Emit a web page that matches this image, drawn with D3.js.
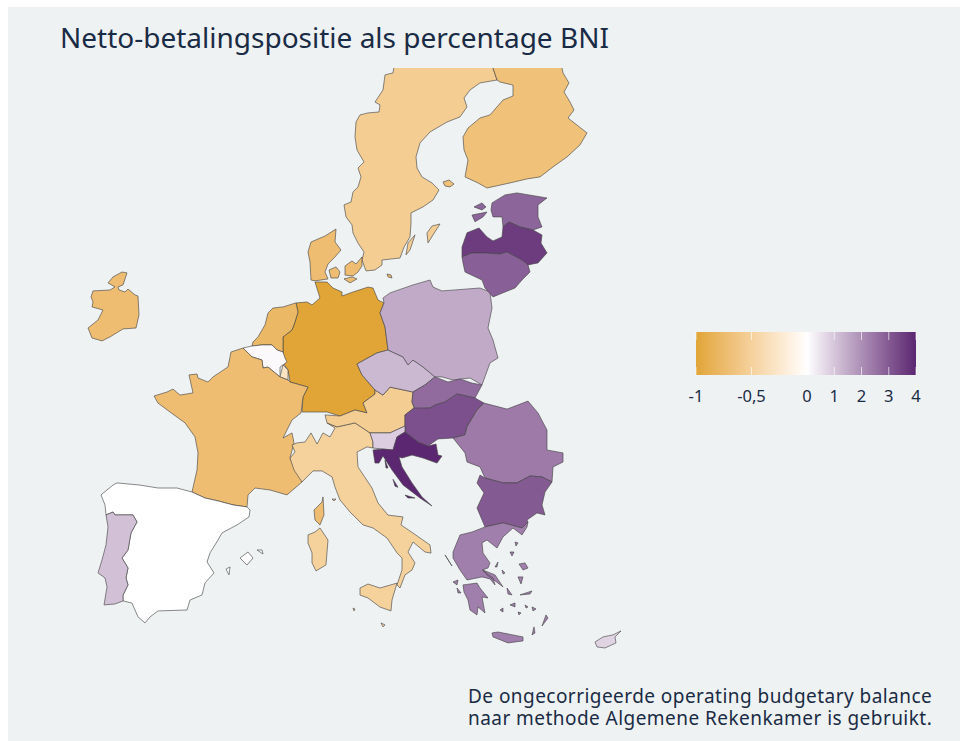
<!DOCTYPE html>
<html>
<head>
<meta charset="utf-8">
<style>
  body { margin: 0; background: #fff; }
  text { font-family: "Noto Sans", sans-serif; fill: #1a2b45; }
</style>
<script src="https://cdn.jsdelivr.net/npm/d3@7"></script>
</head>
<body>
<script>
// country outlines, [lon, lat]
const sweden = [
  [[14.8,66.9],[14.64,66.19],[14,66.08],[13.84,65.25],[13.2,64.59],[13.6,64.43],[13.52,64.04],[12.64,63.99],[12,63.88],[11.68,63.49],[11.6,62.67],[11.76,61.95],[12.32,61.29],[11.84,60.96],[12.08,60.47],[11.84,59.92],[11.44,59.64],[11.28,59.09],[10.72,58.93],[10.88,58.27],[11.36,57.83],[11.44,57.38],[11.84,56.83],[12.32,56.34],[12.16,55.9],[12.48,55.3],[13.2,55.35],[13.76,55.63],[13.76,55.9],[15.2,56.01],[15.52,56.61],[16,57.17],[16.08,57.94],[16.08,58.49],[17.04,58.82],[17.84,59.2],[18.32,59.75],[17.76,60.14],[16.96,60.47],[16.56,60.96],[16.48,61.57],[16.8,62.34],[17.6,62.94],[18.96,63.49],[20,63.77],[20.56,64.32],[20.32,64.81],[20.8,65.25],[21.6,65.64],[22.96,65.8],[22.64,66.46],[22.64,66.9]],
  [[18.4,57.88],[17.76,57.77],[17.36,57.39],[17.44,56.84],[17.84,57.28]],
  [[16.4,57.28],[15.84,56.84],[15.68,56.18],[16,56.45]]
];
const finland = [
  [[22.64,66.9],[28.4,66.9],[28.16,66.46],[28.24,66.19],[28.72,65.64],[28.32,65.14],[28.8,64.59],[29.12,64.15],[28.64,63.71],[30.16,62.89],[29.6,62.23],[28.56,61.57],[27.44,61.02],[26.4,60.47],[25.36,60.36],[24,60.14],[22.16,59.86],[21.44,60.14],[20.4,60.47],[20.64,61.4],[20.32,61.95],[20.24,62.67],[20.64,63.16],[21.6,63.71],[22.4,63.88],[23.44,64.7],[24.24,64.92],[24.24,65.52],[23.2,65.69],[22.96,65.8],[22.64,66.46]],
  [[18.64,60.19],[19.12,60.3],[19.52,60.08],[19.2,59.92],[18.8,59.97]]
];
const denmark = [
  [[10.08,57.6],[9.2,57.22],[8.08,56.89],[7.84,56.34],[8,55.79],[8.08,54.8],[8.4,54.75],[9.44,54.86],[9.2,55.24],[9.44,55.68],[10,56.07],[10.48,56.45],[10,56.89]],
  [[9.52,55.35],[10.08,55.52],[10.4,55.24],[10.24,54.91],[9.68,54.91]],
  [[10.8,55.57],[11.36,55.85],[11.68,55.68],[12.16,56.07],[12.16,55.57],[11.84,55.24],[11.44,55.02],[10.8,55.07]],
  [[10.72,54.86],[11.36,54.97],[11.76,54.86],[11.2,54.64]],
  [[14.16,55.13],[14.48,55.08],[14.56,54.91],[14.24,54.97]]
];
const germany = [
  [[6.88,53.54],[7.76,53.59],[8.16,53.43],[8.8,53.81],[8.4,54.69],[9.36,54.69],[9.84,54.36],[10.56,54.14],[10.56,53.92],[11.44,54.14],[12.64,54.41],[13.04,54.36],[13.44,53.7],[13.92,53.54],[13.6,52.99],[14,52.22],[14.24,50.95],[13.36,50.79],[11.76,50.18],[12.16,49.58],[13.2,48.75],[13.2,48.53],[12.24,48.04],[12.56,47.49],[11.6,47.65],[10.4,47.32],[9.36,47.54],[7.36,47.54],[7.44,48.37],[7.84,48.91],[6.4,49.19],[6.24,49.85],[5.84,50.24],[5.84,51.06],[5.84,51.67],[6.56,52.05],[6.8,52.49],[7.04,53.04]]
];
const netherlands = [
  [[6.88,53.54],[5.84,53.32],[5.04,53.26],[4.64,52.99],[4.4,52.33],[3.84,51.67],[3.44,51.39],[3.36,51.17],[4.16,51.23],[4.96,51.23],[5.36,50.95],[5.84,50.84],[5.84,51.67],[6.56,52.05],[6.8,52.49],[7.04,53.04]]
];
const belgium = [
  [[2.64,51.06],[3.36,51.17],[4.16,51.23],[4.96,51.23],[5.36,50.95],[5.84,50.84],[6,50.51],[6.16,50.29],[5.6,50.01],[5.6,49.47],[4.64,50.01],[4.24,49.96],[4.16,50.4],[3.36,50.57]]
];
const luxembourg = [
  [[5.6,49.47],[5.84,50.13],[6.24,49.85],[6.24,49.3]]
];
const ireland = [
  [[-6.64,55.19],[-6.96,54.53],[-7.36,54.42],[-7.28,54.25],[-6.8,54.14],[-6.56,54.3],[-6,53.98],[-5.76,53.92],[-5.68,52.88],[-5.92,52.16],[-6.96,52.11],[-8,51.67],[-8.64,51.45],[-9.44,51.61],[-9.76,52.16],[-8.96,52.6],[-8.56,53.15],[-9.44,53.32],[-9.36,53.59],[-9.52,53.87],[-9.36,54.2],[-8,54.25],[-7.6,54.42],[-8.16,54.64],[-7.76,54.97],[-7.04,55.24]]
];
const france = [
  [[2.64,51.06],[3.36,50.57],[4.16,50.4],[4.24,49.96],[4.64,50.01],[5.6,49.47],[6.24,49.3],[6.4,49.19],[7.84,48.91],[7.44,48.37],[7.28,47.49],[6.56,47.1],[6.16,46.55],[5.84,46.11],[6.56,46.39],[6.72,45.84],[6.4,45.01],[6.8,44.46],[7.36,43.97],[7.36,43.69],[6.16,42.98],[4.8,43.25],[3.6,43.36],[3.04,42.98],[2.96,42.32],[1.84,42.43],[0.64,42.65],[-0.4,42.81],[-1.44,43.14],[-1.04,44.35],[-0.96,45.29],[-1.2,46.17],[-2,46.94],[-3.2,47.54],[-4.16,48.03],[-4.48,48.42],[-3.44,48.64],[-2.96,48.8],[-2.4,48.47],[-1.36,48.59],[-1.68,49.58],[-1.04,49.63],[-0.96,49.41],[-0.16,49.19],[0.24,49.47],[1.44,50.02],[1.68,50.84]],
  [[9.04,42.87],[8.96,42.59],[8.32,42.15],[8.4,41.6],[8.8,41.33],[9.12,41.88]]
];
const spain = [
  [[-1.44,43.14],[-0.4,42.81],[0.64,42.65],[1.84,42.43],[2.96,42.32],[3.2,42.15],[3.12,41.77],[2.16,41.33],[0.96,40.89],[0.64,40.5],[0,39.79],[-0.24,39.29],[0.32,38.69],[-0.4,38.14],[-0.64,37.48],[-1.6,37.2],[-1.84,36.65],[-4.16,36.6],[-4.8,36.27],[-5.2,35.94],[-5.76,36.27],[-6.24,37.03],[-6.96,37.15],[-6.96,37.47],[-6.56,38.03],[-6.72,38.41],[-6.56,38.96],[-7.04,39.51],[-6.56,39.95],[-6.32,40.89],[-5.84,41.49],[-6.16,41.88],[-6.8,41.88],[-7.6,41.88],[-7.76,42.04],[-8.32,41.88],[-8.4,42.43],[-8.72,42.98],[-7.76,43.52],[-7.44,43.64],[-5.6,43.52],[-4.16,43.36],[-2.64,43.36]],
  [[2.4,39.51],[3.04,39.84],[3.44,39.51],[2.96,39.12]],
  [[3.76,39.95],[4.16,39.95],[4.24,39.73]],
  [[1.28,38.9],[1.6,39.02],[1.52,38.58]]
];
const portugal = [
  [[-8.32,41.88],[-7.76,42.04],[-7.6,41.88],[-6.8,41.88],[-6.16,41.88],[-5.84,41.49],[-6.32,40.89],[-6.56,39.95],[-7.04,39.51],[-6.56,38.96],[-6.72,38.41],[-6.56,38.03],[-6.96,37.47],[-6.96,37.15],[-7.6,36.98],[-8.48,36.93],[-8.24,37.92],[-8.4,38.41],[-8.96,38.69],[-8.64,39.4],[-8.32,40.23],[-8.16,41.22]]
];
const italy = [
  [[6.56,45.73],[6.96,45.84],[7.6,45.89],[8.08,46.39],[8.56,45.78],[9.04,46.39],[9.6,46.17],[10,46.66],[9.36,46.94],[10.16,46.72],[11.6,46.94],[12.8,46.39],[13.04,45.89],[13.04,45.56],[12.56,45.62],[11.76,45.34],[11.84,44.52],[12.96,43.36],[13.44,42.54],[14.24,41.87],[15.44,41.77],[15.28,41.33],[16.24,40.88],[17.6,40.23],[17.68,39.78],[17.2,39.84],[16.24,40.39],[15.84,39.84],[16.4,39.24],[16.16,38.85],[15.6,38.58],[15.2,37.86],[14.96,38.03],[15.36,38.85],[15.36,39.51],[14.96,39.79],[14.16,40.61],[13.04,41.16],[12.24,41.33],[11.2,42.04],[10.4,42.7],[10,43.41],[9.76,43.97],[8.96,44.3],[8.24,44.3],[7.76,43.97],[7.36,43.69],[6.72,44.35],[6.4,45.01],[6.8,45.34]],
  [[12,37.86],[12.64,38.08],[13.6,37.86],[14.96,38.13],[14.56,37.2],[14.48,36.6],[13.6,36.81],[12.64,37.31],[12,37.47]],
  [[7.84,40.78],[8.4,40.94],[8.8,41.16],[9.44,40.5],[9.28,39.13],[8.48,38.8],[8.16,39.24],[8.16,39.79],[7.84,40.33]],
  [[11.44,36.76],[11.6,36.7],[11.52,36.6]],
  [[13.68,35.94],[14,35.83],[13.84,35.72]],
  [[9.76,42.75],[10.08,42.75],[9.92,42.65]]
];
const austria = [
  [[13.2,48.75],[13.84,48.47],[14.4,48.91],[16.24,48.64],[16.16,48.09],[16.32,47.76],[15.6,47.38],[15.6,46.77],[14.4,46.39],[12.8,46.39],[11.6,46.94],[10.16,46.72],[9.36,46.94],[9.2,47.38],[10.4,47.32],[11.6,47.65],[12.56,47.49],[12.24,48.04],[13.2,48.53]]
];
const czechia = [
  [[11.76,50.18],[13.36,50.79],[14.24,50.95],[15.44,50.57],[15.84,50.13],[16.24,50.4],[17.04,50.02],[18,49.47],[17.2,49.03],[16.24,48.64],[14.4,48.91],[13.84,48.47],[13.2,48.75],[12.16,49.58]]
];
const poland = [
  [[13.84,53.81],[14.4,54.09],[16.24,54.53],[17.6,54.8],[17.84,54.41],[18.56,54.2],[21.6,54.36],[22.4,54.14],[22.56,53.26],[22.24,52.16],[22.64,51.5],[23.04,50.51],[22.4,50.24],[21.76,49.03],[20.8,49.41],[19.44,49.3],[18.56,49.47],[18,49.47],[17.04,50.02],[16.24,50.4],[15.84,50.13],[15.44,50.57],[14.24,50.95],[14,52.22],[13.6,52.99],[13.92,53.54]]
];
const slovakia = [
  [[16.24,48.64],[17.2,49.03],[18,49.47],[19.04,49.19],[20,49.36],[20.96,49.13],[21.76,49.03],[21.2,48.31],[19.76,48.53],[18.8,48.09],[18,47.92],[17.6,47.76],[16.4,47.7],[16.16,48.09]]
];
const hungary = [
  [[16.32,47.76],[17.6,47.76],[18,47.92],[18.8,48.09],[19.76,48.53],[21.2,48.31],[21.92,48.03],[21.36,47.65],[20.56,46.72],[20.4,46.28],[19.44,46.11],[18.24,46.06],[17.44,45.67],[16.64,45.89],[15.6,46.44],[15.6,46.77],[15.6,47.38]]
];
const slovenia = [
  [[15.6,46.77],[15.6,46.44],[14.96,46.17],[14.64,45.45],[13.84,45.5],[13.04,45.56],[13.04,45.89],[12.8,46.39],[14.4,46.39]]
];
const croatia = [
  [[15.6,46.44],[16.64,45.89],[17.44,45.67],[18.08,45.78],[18.24,45.17],[18.56,45.12],[18.16,44.73],[17.04,45.01],[16.16,45.17],[15.36,45.01],[15.12,45.07],[15.36,44.52],[16.16,43.64],[16.96,42.87],[17.76,42.37],[16.8,42.81],[15.44,43.53],[14.56,44.35],[13.84,45.12],[13.52,44.73],[13.2,44.73],[13.04,45.45],[13.84,45.5],[14.64,45.45],[14.96,46.17]],
  [[14,44.9],[14.24,44.46],[14.08,44.46]],
  [[14.64,43.84],[15.04,43.4],[14.8,43.46]],
  [[15.6,42.97],[16.4,42.81],[15.84,42.81]]
];
const romania = [
  [[21.92,48.03],[23.76,47.7],[25.44,48.14],[26.24,47.49],[26.96,46.55],[26.96,45.45],[28.24,45.29],[28.24,44.79],[27.44,44.52],[27.36,43.69],[26.56,43.97],[25.6,44.02],[24.56,43.64],[23.44,43.64],[22,43.91],[21.6,44.52],[20.56,44.79],[20.4,45.29],[19.44,46.11],[20.4,46.28],[20.56,46.72],[21.36,47.65]]
];
const bulgaria = [
  [[22,43.91],[23.44,43.64],[24.56,43.64],[25.6,44.02],[26.56,43.97],[27.36,43.69],[26.8,43.14],[26.56,42.43],[26.8,41.88],[26.16,41.99],[25.36,41.6],[25.44,41.49],[24.96,41.16],[23.44,41.44],[22,41.22],[21.36,42.26],[21.92,43.09],[21.36,43.64],[21.6,44.07]]
];
const greece = [
  [[20,40.78],[20.96,40.94],[22,41.22],[23.44,41.44],[24.96,41.16],[25.44,41.49],[25.36,41.22],[24.96,40.78],[24.24,41.16],[23.44,40.67],[22.96,40.06],[22.16,40.5],[21.76,40.34],[21.84,39.79],[22.4,39.24],[22.24,38.96],[21.76,38.85],[22.64,38.41],[22.8,38.03],[22.4,38.36],[21.76,38.47],[20.56,38.3],[20,38.85],[19.44,39.51],[19.44,39.84]],
  [[20.24,38.03],[21.36,38.13],[21.6,37.86],[22.24,37.31],[21.76,37.37],[22,36.49],[21.44,36.82],[21.36,36.38],[20.8,36.65],[20.64,37.2],[20.32,37.64]],
  [[22.56,35.39],[23.04,35.44],[25.04,35.17],[25.04,34.95],[23.84,34.84],[22.64,35.17]],
  [[21.84,38.85],[22.8,38.58],[23.44,37.92],[23.04,38.13],[22.16,38.58]],
  [[24.72,39.18],[25.2,39.24],[25.44,38.96],[25.04,38.85]],
  [[24.64,38.47],[25.04,38.47],[24.88,38.08]],
  [[24.8,37.48],[25.76,37.7],[25.6,37.53]],
  [[26.88,36.38],[27.04,36.21],[26.56,35.77]],
  [[24.4,40.39],[24.64,40.34],[24.48,40.17]],
  [[24,39.84],[24.32,39.84],[24.16,39.62]],
  [[18.8,39.68],[19.2,39.24],[19.36,39.07]],
  [[19.44,38.19],[19.84,38.3],[19.76,38.03]],
  [[19.76,37.86],[20.08,37.59],[19.84,37.59]],
  [[24,36.93],[24.4,37.04],[24.4,36.82]],
  [[23.2,36.65],[23.44,36.76],[23.44,36.54]],
  [[23.76,37.86],[24.16,37.48],[23.84,37.53]],
  [[25.92,35.72],[26,35.39],[25.76,35.28]],
  [[25.76,36.82],[26.08,36.71],[25.84,36.6]],
  [[23.04,39.29],[22.8,39.02],[22.96,39.02]],
  [[23.36,38.85],[23.6,38.69],[23.44,38.63]],
  [[25.2,36.93],[25.44,36.82],[25.28,36.76]],
  [[24.64,36.54],[24.88,36.49],[24.72,36.38]]
];
const cyprus = [
  [[30.8,34.89],[31.44,35.17],[32.24,35.28],[32.88,35.5],[32.4,35.17],[32.48,34.84],[31.6,34.56],[30.96,34.62]]
];
const estonia = [
  [[22.56,59.04],[23.6,59.48],[24.56,59.59],[26.96,59.31],[26.24,58.93],[26.24,58.27],[26.56,57.72],[25.84,57.55],[24.8,57.72],[23.92,57.99],[23.44,57.72],[23.36,58.27],[22.64,58.27],[22.48,58.65]],
  [[20.96,58.37],[22.16,58.54],[21.84,58.27],[21.2,58]],
  [[21.12,58.82],[21.76,59.04],[22.08,58.82],[21.76,58.65]]
];
const latvia = [
  [[21.52,57.66],[22.16,57.17],[22.64,56.95],[23.36,57.17],[23.44,57.72],[23.92,57.99],[24.8,57.72],[25.84,57.55],[26.56,57.28],[26.48,56.83],[26.96,56.29],[26.24,55.74],[25.44,55.63],[24.96,55.9],[23.76,56.34],[23.2,56.23],[21.76,56.29],[20.96,56.29],[20.16,56.07],[20.16,56.61],[20.56,57.4]]
];
const lithuania = [
  [[20.16,56.07],[20.96,56.29],[21.76,56.29],[23.2,56.23],[23.76,56.34],[24.96,55.9],[25.44,55.63],[25.6,55.24],[24.96,54.8],[24.4,54.36],[23.6,54.14],[22.64,53.87],[22,54.36],[21.76,54.8],[20.4,55.24],[20.24,55.74]]
];

const countries = ["Zweden", "Finland", "Denemarken", "Duitsland", "Nederland", "België", "Luxemburg", "Ierland", "Frankrijk", "Spanje", "Portugal", "Italië", "Oostenrijk", "Tsjechië", "Polen", "Slowakije", "Hongarije", "Slovenië", "Kroatië", "Roemenië", "Bulgarije", "Griekenland", "Cyprus", "Estland", "Letland", "Litouwen"];
const shapes = [sweden, finland, denmark, germany, netherlands, belgium, luxembourg, ireland, france, spain, portugal, italy, austria, czechia, poland, slovakia, hungary, slovenia, croatia, romania, bulgaria, greece, cyprus, estonia, latvia, lithuania];
// netto-betalingspositie, % BNI
const netPosition = [-0.55, -0.68, -0.72, -1, -0.78, 0.1, -0.3, -0.72, -0.72, 0, 1.1, -0.5, -0.55, 1.25, 1.5, 2.7, 3.2, 0.85, 4, 2.4, 3, 2.3, 0.75, 2.8, 3.6, 2.9];

const legendBreaks = [-1, -0.5, 0, 1, 2, 3, 4];
const legendLabels = ["-1", "-0,5", "0", "1", "2", "3", "4"];
const titleText = "Netto-betalingspositie als percentage BNI";
const noteLines = ["De ongecorrigeerde operating budgetary balance", "naar methode Algemene Rekenkamer is gebruikt."];

const width = 960;
const height = 741;

const svg = d3.select("body").append("svg")
  .attr("width", width)
  .attr("height", height)
  .style("display", "block");

svg.append("rect")
  .attr("x", 8).attr("y", 7)
  .attr("width", width - 8).attr("height", height - 7)
  .attr("fill", "#eef2f3");

const defs = svg.append("defs");
defs.append("clipPath").attr("id", "map-clip")
  .append("rect")
  .attr("x", 8).attr("y", 68)
  .attr("width", 700).attr("height", 640);

// the source map is squeezed, so plain linear scales fit it better than a projection
const xMap = d3.scaleLinear().domain([0, 8]).range([210, 310]);
const yMap = d3.scaleLinear().domain([70.2, 15.2]).range([0, 1000]);
const path = d3.geoPath(d3.geoTransform({
  point(lon, lat) { this.stream.point(xMap(lon), yMap(lat)); }
}));

const color = d3.scaleLinear()
  .domain([-1, 0, 4])
  .range(["#e1a537", "#ffffff", "#5c2771"])
  .interpolate(d3.interpolateLab);

svg.append("g")
  .attr("clip-path", "url(#map-clip)")
  .selectAll("path")
  .data(countries)
  .enter()
  .append("path")
  .attr("d", (d, i) => path({ type: "MultiPolygon", coordinates: shapes[i].map(r => [r.concat([r[0]])]) }))
  .attr("fill", (d, i) => color(netPosition[i]))
  .attr("stroke", "#444444")
  .attr("stroke-opacity", 0.9)
  .attr("stroke-width", 0.7)
  .attr("stroke-linejoin", "round")
  .append("title")
  .text(d => d);

// legend
const xLegend = d3.scaleLinear().domain([-1, 0, 4]).range([696, 807, 916]);
const legendTop = 332;
const legendBottom = 375;
const tickLen = 8;

const grad = defs.append("linearGradient")
  .attr("id", "legend-grad")
  .attr("gradientUnits", "userSpaceOnUse")
  .attr("x1", xLegend(-1)).attr("x2", xLegend(4))
  .attr("y1", 0).attr("y2", 0);
legendBreaks.concat([-0.75, -0.25, 0.5, 1.5, 2.5, 3.5]).sort(d3.ascending).forEach(v => {
  grad.append("stop")
    .attr("offset", (xLegend(v) - xLegend(-1)) / (xLegend(4) - xLegend(-1)))
    .attr("stop-color", color(v));
});

svg.append("rect")
  .attr("x", xLegend(-1)).attr("y", legendTop)
  .attr("width", xLegend(4) - xLegend(-1))
  .attr("height", legendBottom - legendTop)
  .attr("fill", "url(#legend-grad)");

const legendTicks = svg.append("g")
  .selectAll("g")
  .data(legendBreaks)
  .enter()
  .append("g");
legendTicks.append("line")
  .attr("x1", d => xLegend(d)).attr("x2", d => xLegend(d))
  .attr("y1", legendTop).attr("y2", legendTop + tickLen);
legendTicks.append("line")
  .attr("x1", d => xLegend(d)).attr("x2", d => xLegend(d))
  .attr("y1", legendBottom - tickLen).attr("y2", legendBottom);
legendTicks.selectAll("line")
  .attr("stroke", "#ffffff")
  .attr("stroke-opacity", 0.8)
  .attr("stroke-width", 0.8);
legendTicks.append("text")
  .attr("x", d => xLegend(d))
  .attr("y", 402)
  .attr("text-anchor", "middle")
  .attr("font-size", 16.5)
  .text((d, i) => legendLabels[i]);

svg.append("text")
  .attr("x", 60).attr("y", 48)
  .attr("font-size", 28)
  .text(titleText);

svg.append("g")
  .selectAll("text")
  .data(noteLines)
  .enter()
  .append("text")
  .attr("x", 468)
  .attr("y", (d, i) => 703 + i * 21.5)
  .attr("font-size", 19)
  .attr("letter-spacing", 0.45)
  .text(d => d);
</script>
</body>
</html>
